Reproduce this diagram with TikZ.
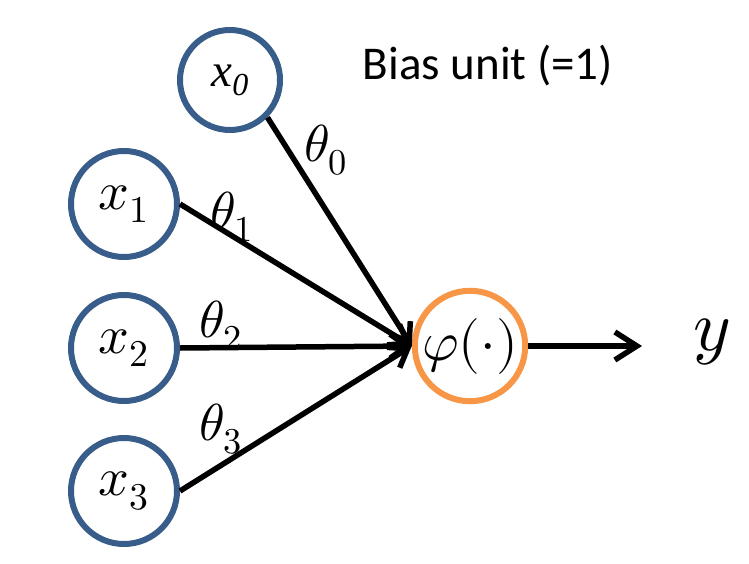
\documentclass[tikz,border=0pt]{standalone}
\usepackage{fontspec}
\usepackage{unicode-math}
\setmathfont{Latin Modern Math}
\newfontfamily\calib{Carlito}
\newfontfamily\timesf{Liberation Serif}
\usetikzlibrary{arrows.meta}
\definecolor{nodeblue}{RGB}{56,93,138}
\definecolor{nodeorange}{RGB}{247,150,70}
\tikzset{
  inp/.style={circle, draw=nodeblue, line width=6pt, minimum size=106pt, inner sep=0pt, font=\fontsize{54}{60}\selectfont},
  biasnode/.style={circle, draw=nodeblue, line width=6pt, minimum size=100pt, inner sep=0pt, font=\fontsize{47}{52}\selectfont},
  actnode/.style={circle, draw=nodeorange, line width=6pt, minimum size=108pt, inner sep=0pt, font=\fontsize{56}{60}\selectfont},
  edge/.style={line width=5.5pt, -{Straight Barb[length=17pt,width=24pt,line width=5.5pt]}},
  outedge/.style={line width=5.5pt, -{Straight Barb[length=22pt,width=28pt,line width=5.5pt]}},
  wlabel/.style={font=\fontsize{52}{56}\selectfont, inner sep=0pt},
}
\begin{document}
\begin{tikzpicture}[x=1pt,y=-1pt]
\useasboundingbox (0,0) rectangle (749,564);
\node[biasnode] (x0) at (230,80) {\timesf\itshape x\raisebox{-9pt}{\fontsize{32}{36}\selectfont 0}};
\node[inp] (x1) at (124,204) {$x_1$};
\node[inp] (x2) at (124,348) {$x_2$};
\node[inp] (x3) at (124,491) {$x_3$};
\node[actnode] (phi) at (470,346) {$\varphi(\cdot)$};
\coordinate (yend) at (642,346);
\node[font=\fontsize{72}{76}\selectfont, inner sep=0pt] (ylab) at (712,342) {$y$};
\node[font=\calib\fontsize{47}{52}\selectfont, inner sep=0pt] (bias) at (488,66) {Bias unit (=1)};
\draw[edge] (x0.south east) -- (phi.west);
\draw[edge] (x1.east) -- (phi.west);
\draw[edge] (x2.east) -- (phi.west);
\draw[edge] (x3.east) -- (phi.west);
\draw[outedge] (phi.east) -- (yend);
\node[wlabel] (t0) at (326,150) {$\theta_0$};
\node[wlabel] (t1) at (232,217) {$\theta_1$};
\node[wlabel] (t2) at (221,326) {$\theta_2$};
\node[wlabel] (t3) at (221,429) {$\theta_3$};
\end{tikzpicture}
\end{document}
